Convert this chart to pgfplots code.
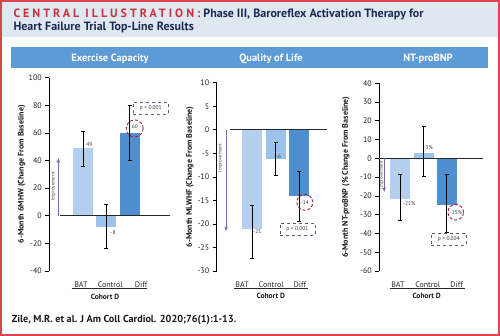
\documentclass[border=0pt]{standalone}
\usepackage{pgfplots}
\pgfplotsset{compat=1.18}
\usepackage{fontspec}
\setmainfont{PT Sans}
\usetikzlibrary{arrows.meta}
\definecolor{hdrbg}{HTML}{DFE7F1}
\definecolor{jred}{HTML}{C8323C}
\definecolor{navy}{HTML}{1B2A55}
\definecolor{panelblue}{HTML}{5C9BD6}
\definecolor{batc}{HTML}{B5D0EE}
\definecolor{ctrlc}{HTML}{9DC3EA}
\definecolor{diffc}{HTML}{4F8FCF}
\definecolor{impc}{HTML}{6C6AA8}
\definecolor{circc}{HTML}{A3213A}
\definecolor{boxc}{HTML}{555B7A}
\definecolor{borderc}{HTML}{D9464E}

\pgfplotsset{
  panel/.style={
    scale only axis, anchor=south west, clip=false,
    axis y line*=left, axis x line*=bottom,
    axis line style={-},
    x axis line style={draw=none},
    y axis line style={line width=0.7pt, black},
    xtick style={draw=none},
    ytick style={line width=0.7pt, black},
    tick align=outside, major tick length=4pt,
    /pgf/number format/assume math mode=true,
    yticklabel style={font=\fontsize{8}{9}\selectfont, text=black!85},
    xticklabel style={font=\fontsize{8}{9}\selectfont, text=black!85, anchor=center, yshift=-9.7pt},
    every axis y label/.style={rotate=90, anchor=center, font=\bfseries\fontsize{8}{9}\selectfont, text=black!90},
  },
  barstyle/.style={ybar, bar width=20pt, draw=none, fill=#1,
     error bars/y dir=both, error bars/y explicit,
     error bars/error bar style={line width=1pt, black},
     error bars/error mark options={rotate=90, line width=1pt, black, mark size=2pt}},
}
\tikzset{
  vlab/.style={font=\fontsize{5.5}{6}\selectfont, text=black!75, inner sep=0.5pt},
  pbox/.style={draw=boxc, dashed, line width=0.6pt, minimum width=35pt, minimum height=12pt, inner sep=1pt, font=\fontsize{5.5}{6}\selectfont, text=black!80},
  circ/.style={circc, densely dashed, line width=0.9pt},
  imp/.style={impc, line width=0.9pt, -{Stealth[length=4.5pt,width=3.5pt]}},
  imptext/.style={rotate=90, font=\fontsize{5}{5.5}\selectfont, text=black!70, inner sep=0pt},
}

\begin{document}
\begin{tikzpicture}[x=1pt,y=1pt]
% background
\fill[white] (0,0) rectangle (500,336);
\fill[hdrbg] (0,299.3) rectangle (500,336);
\fill[panelblue] (11,267.7) rectangle (488,289.3);
\draw[borderc, line width=2pt] (1,1) rectangle (499,335);

% title
\node[anchor=base west, inner sep=0] at (13.3,318.7) {\bfseries\fontsize{12}{14}\selectfont{\color{jred}\addfontfeature{LetterSpace=25}CENTRAL ILLUSTRATION:}\color{navy}\ Phase III, Baroreflex Activation Therapy for};
\node[anchor=base west, inner sep=0] at (13.3,305.3) {\bfseries\fontsize{12}{14}\selectfont\color{navy}Heart Failure Trial Top-Line Results};

% panel titles
\node[anchor=base, inner sep=0, text=white, font=\bfseries\fontsize{10.5}{12}\selectfont] at (110,274.4) {Exercise Capacity};
\node[anchor=base, inner sep=0, text=white, font=\bfseries\fontsize{10.5}{12}\selectfont] at (271,274.4) {Quality of Life};
\node[anchor=base, inner sep=0, text=white, font=\bfseries\fontsize{10.5}{12}\selectfont] at (428,274.4) {NT-proBNP};

% footer
\node[anchor=base west, inner sep=0, text=black!90, font=\bfseries\fontsize{10.2}{12}\selectfont] at (11.7,13.3) {Zile, M.R. et al. J Am Coll Cardiol. 2020;76(1):1-13.};

% ---------- Panel 1 ----------
\begin{axis}[panel, at={(49.3pt,65pt)}, width=121pt, height=193.3pt,
  xmin=-1.45, xmax=3.75, ymin=-40, ymax=100, ytick={-40,-20,...,100},
  xtick={-0.09,1.17,2.5}, xticklabels={BAT,Control,Diff},
  ylabel={6-Month 6MHW (Change From Baseline)},
  ylabel style={at={(axis description cs:-0.228,0.5)}}]
\addplot[barstyle=batc] coordinates {(0,49) += (0,12) -= (0,13)};
\addplot[barstyle=ctrlc] coordinates {(1,-8) += (0,16) -= (0,16)};
\addplot[barstyle=diffc] coordinates {(2,60) += (0,20) -= (0,20)};
\draw[black!85, line width=0.8pt] (axis cs:-0.99,0) -- (axis cs:3.75,0);
\node[vlab] at (axis cs:0.27,51.2) {49};
\node[vlab] at (axis cs:1.29,-12.3) {-8};
\node[vlab] at (axis cs:2.23,64.3) {60};
\draw[circ] (axis cs:2.22,63.3) circle[radius=8.5pt];
\node[pbox] at (axis cs:2.91,77.9) {p < 0.001};
\draw[imp] (axis cs:-1.06,0) -- (axis cs:-1.06,41.6);
\node[imptext] at (axis cs:-1.28,21.2) {Improvement};
\end{axis}

% ---------- Panel 2 ----------
\begin{axis}[panel, at={(216.7pt,65pt)}, width=110pt, height=188.2pt,
  xmin=-1.51, xmax=3.17, ymin=-30, ymax=10, ytick={-30,-25,...,10},
  xtick={-0.43,0.81,2.03}, xticklabels={BAT,Control,Diff},
  ylabel={6-Month MLWHF (Change From Baseline)},
  ylabel style={at={(axis description cs:-0.243,0.5)}}]
\addplot[barstyle=batc] coordinates {(0,-21) += (0,5) -= (0,6.4)};
\addplot[barstyle=ctrlc] coordinates {(1,-6.2) += (0,3.6) -= (0,3.6)};
\addplot[barstyle=diffc] coordinates {(2,-14.1) += (0,5.2) -= (0,5.3)};
\draw[black!85, line width=0.8pt] (axis cs:-0.95,0) -- (axis cs:3.17,0);
\node[vlab] at (axis cs:0.22,-21.7) {-21};
\node[vlab] at (axis cs:1.13,-5.7) {-6};
\node[vlab] at (axis cs:2.24,-15.4) {-14};
\draw[circ] (axis cs:2.24,-15.4) circle[radius=8pt];
\node[pbox] at (axis cs:1.92,-21.1) {p < 0.001};
\draw[imp] (axis cs:-1.11,0) -- (axis cs:-1.11,-21.5);
\node[imptext] at (axis cs:-1.35,-6) {Improvement};
\end{axis}

% ---------- Panel 3 ----------
\begin{axis}[panel, at={(379.3pt,65pt)}, width=103.7pt, height=187.7pt,
  xmin=-0.9, xmax=3.55, ymin=-60, ymax=40, ytick={-60,-50,...,40},
  xtick={-0.1,1.18,2.42}, xticklabels={BAT,Control,Diff},
  ylabel={6-Month NT-proBNP (\% Change From Baseline)},
  ylabel style={at={(axis description cs:-0.321,0.5)}}]
\addplot[barstyle=batc] coordinates {(0,-21.5) += (0,13) -= (0,11.7)};
\addplot[barstyle=ctrlc] coordinates {(1,3) += (0,13.8) -= (0,12.4)};
\addplot[barstyle=diffc] coordinates {(2,-25) += (0,16.3) -= (0,14.5)};
\draw[black!85, line width=0.8pt] (axis cs:-0.9,0) -- (axis cs:3.55,0);
\node[vlab] at (axis cs:1.24,5.9) {3\%};
\node[vlab] at (axis cs:0.39,-24) {-21\%};
\node[vlab] at (axis cs:2.39,-28.7) {-25\%};
\draw[circ] (axis cs:2.38,-28.7) circle[radius=7.8pt];
\node[pbox] at (axis cs:2.08,-43.1) {p = 0.004};
\draw[imp] (axis cs:-0.69,0) -- (axis cs:-0.69,-17.8);
\node[imptext] at (axis cs:-0.8,-8.9) {Improvement};
\end{axis}

% cohort lines and labels
\draw[black!85, line width=0.8pt] (71.7,47.7) -- (146.7,47.7);
\draw[black!85, line width=0.8pt] (234.3,47.7) -- (308.3,47.7);
\draw[black!85, line width=0.8pt] (390,47.7) -- (465,47.7);
\node[font=\bfseries\fontsize{7.5}{9}\selectfont, text=black!90] at (105,39.3) {Cohort D};
\node[font=\bfseries\fontsize{7.5}{9}\selectfont, text=black!90] at (270.8,39.8) {Cohort D};
\node[font=\bfseries\fontsize{7.5}{9}\selectfont, text=black!90] at (426.7,39.8) {Cohort D};

\pgfresetboundingbox
\path (0,0) rectangle (500,336);
\end{tikzpicture}
\end{document}
